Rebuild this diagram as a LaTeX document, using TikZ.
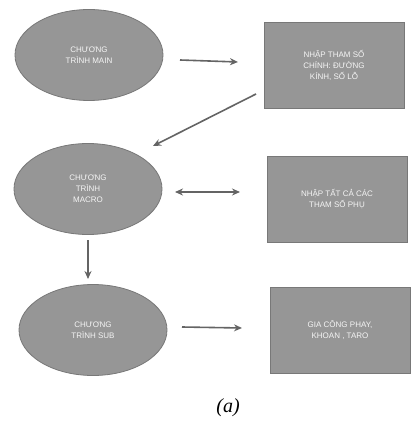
\documentclass[tikz,border=0pt]{standalone}
\usepackage{fontspec}
\setmainfont{Liberation Sans}
\newfontfamily\capfont{Liberation Serif}
\usetikzlibrary{shapes.geometric,arrows.meta}
\definecolor{shapefill}{RGB}{150,150,150}
\definecolor{shapeedge}{RGB}{120,120,120}
\definecolor{arrowcol}{RGB}{100,100,100}
\tikzset{
  oval/.style={ellipse, draw=shapeedge, fill=shapefill, line width=0.8pt,
    minimum width=148pt, minimum height=91pt, inner sep=0pt,
    text=white!92!gray, font=\fontsize{8}{11}\selectfont, align=center},
  boxnode/.style={rectangle, draw=shapeedge, fill=shapefill, line width=0.8pt,
    minimum width=140pt, minimum height=86pt, inner sep=0pt,
    text=white!92!gray, font=\fontsize{8}{11}\selectfont, align=center},
  conn/.style={draw=arrowcol, line width=1.6pt, -{Stealth[length=8pt,width=7pt]}},
  dconn/.style={draw=arrowcol, line width=1.6pt, {Stealth[length=8pt,width=7pt]}-{Stealth[length=8pt,width=7pt]}}
}
\begin{document}
\begin{tikzpicture}[x=1pt,y=-1pt]
\useasboundingbox[fill=white] (0,0) rectangle (413,430);
\node[oval] (e1) at (89,55) {CHƯƠNG\\TRÌNH MAIN};
\node[boxnode] (r1) at (334,65) {NHẬP THAM SỐ\\CHÍNH: ĐƯỜNG\\KÍNH, SỐ LỖ};
\node[oval] (e2) at (88,189) {CHƯƠNG\\TRÌNH\\MACRO};
\node[boxnode] (r2) at (337,199) {NHẬP TẤT CẢ CÁC\\THAM SỐ PHỤ};
\node[oval] (e3) at (93,330) {CHƯƠNG\\TRÌNH SUB};
\node[boxnode] (r3) at (340,330) {GIA CÔNG PHAY,\\KHOAN , TARO};
\node[font=\capfont\itshape\fontsize{20}{22}\selectfont] (cap) at (228,408) {(a)};
\coordinate (a1s) at (180,60);
\coordinate (a1e) at (238,62);
\draw[conn] (a1s) -- (a1e);
\coordinate (a2s) at (256,94);
\coordinate (a2e) at (153,146);
\draw[conn] (a2s) -- (a2e);
\coordinate (a3s) at (175,192);
\coordinate (a3e) at (240,192);
\draw[dconn] (a3s) -- (a3e);
\coordinate (a4s) at (88,240);
\coordinate (a4e) at (88,279);
\draw[conn] (a4s) -- (a4e);
\coordinate (a5s) at (182,327);
\coordinate (a5e) at (242,328);
\draw[conn] (a5s) -- (a5e);
\end{tikzpicture}
\end{document}
